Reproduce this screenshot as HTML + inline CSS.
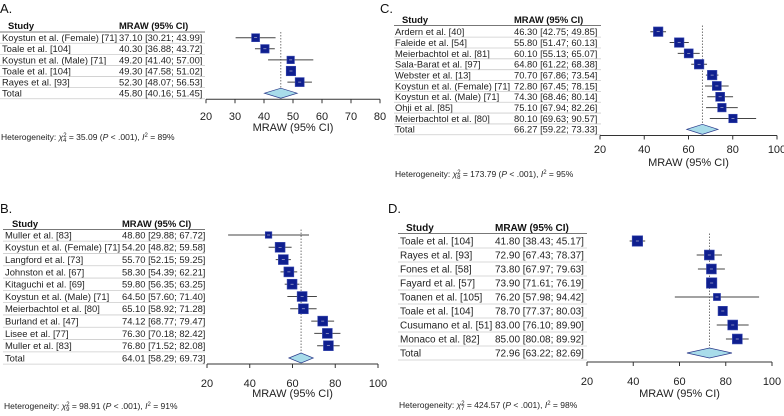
<!DOCTYPE html>
<html><head><meta charset="utf-8"><style>
body{margin:0;background:#fff;}
svg{display:block;font-family:"Liberation Sans",sans-serif;}
</style></head><body>
<svg id="fig" width="784" height="416" viewBox="0 0 784 416"></svg>
<script>
// Panel A data
const aStudies=["Koystun et al. (Female) [71]","Toale et al. [104]","Koystun et al. (Male) [71]","Toale et al. [104]","Rayes et al. [93]"];
const aMeans=[37.10,40.30,49.20,49.30,52.30];
const aLo=[30.21,36.88,41.40,47.58,48.07];
const aHi=[43.99,43.72,57.00,51.02,56.53];
const aWeights=[0.8,0.85,0.75,0.95,0.9];
const aTotal=[45.80,40.16,51.45];
const aTicks=[20,30,40,50,60,70,80];
// Panel B data
const bStudies=["Muller et al. [83]","Koystun et al. (Female) [71]","Langford et al. [73]","Johnston et al. [67]","Kitaguchi et al. [69]","Koystun et al. (Male) [71]","Meierbachtol et al. [80]","Burland et al. [47]","Lisee et al. [77]","Muller et al. [83]"];
const bMeans=[48.80,54.20,55.70,58.30,59.80,64.50,65.10,74.12,76.30,76.80];
const bLo=[29.88,48.82,52.15,54.39,56.35,57.60,58.92,68.77,70.18,71.52];
const bHi=[67.72,59.58,59.25,62.21,63.25,71.40,71.28,79.47,82.42,82.08];
const bWeights=[0.6,0.9,0.9,0.9,0.9,0.9,0.9,0.9,0.9,0.9];
const bTotal=[64.01,58.29,69.73];
const bTicks=[20,40,60,80,100];
// Panel C data
const cStudies=["Ardern et al. [40]","Faleide et al. [54]","Meierbachtol et al. [81]","Sala-Barat et al. [97]","Webster et al. [13]","Koystun et al. (Female) [71]","Koystun et al. (Male) [71]","Ohji et al. [85]","Meierbachtol et al. [80]"];
const cMeans=[46.30,55.80,60.10,64.80,70.70,72.80,74.30,75.10,80.10];
const cLo=[42.75,51.47,55.13,61.22,67.86,67.45,68.46,67.94,69.63];
const cHi=[49.85,60.13,65.07,68.38,73.54,78.15,80.14,82.26,90.57];
const cWeights=[0.95,0.95,0.9,0.95,0.95,0.9,0.9,0.85,0.85];
const cTotal=[66.27,59.22,73.33];
const cTicks=[20,40,60,80,100];
// Panel D data
const dStudies=["Toale et al. [104]","Rayes et al. [93]","Fones et al. [58]","Fayard et al. [57]","Toanen et al. [105]","Toale et al. [104]","Cusumano et al. [51]","Monaco et al. [82]"];
const dMeans=[41.80,72.90,73.80,73.90,76.20,78.70,83.00,85.00];
const dLo=[38.43,67.43,67.97,71.61,57.98,77.37,76.10,80.08];
const dHi=[45.17,78.37,79.63,76.19,94.42,80.03,89.90,89.92];
const dWeights=[0.95,0.9,0.9,0.95,0.65,0.85,0.9,0.9];
const dTotal=[72.96,63.22,82.69];
const dTicks=[20,40,60,80,100];

const NS="http://www.w3.org/2000/svg";
const svg=document.getElementById('fig');
function mk(tag,attrs,parent){const e=document.createElementNS(NS,tag);for(const k in attrs)e.setAttribute(k,attrs[k]);(parent||svg).appendChild(e);return e;}
function fmt(v){return v.toFixed(2);}

function drawPanel(id,letter,studies,means,lo,hi,weights,total,ticks,hetDf,hetChi,hetI2,g){
  const grp=mk('g',{});
  
  
  const vmin=ticks[0],vmax=ticks[ticks.length-1];
  const X=v=>g.x0+(v-vmin)/(vmax-vmin)*(g.x1-g.x0);
  const Y=i=>g.rowY0+i*g.step;
  const fs=g.fs;
  const lab=mk('text',{x:g.lx,y:g.ly,'font-size':13,fill:'#111'},grp);lab.textContent=letter;
  
  
  const h1=mk('text',{x:g.hs,y:g.hy,'font-size':fs,'font-weight':'bold',fill:'#111'},grp);h1.textContent='Study';
  
  
  const h2=mk('text',{x:g.ci,y:g.hy,'font-size':fs,'font-weight':'bold',fill:'#111'},grp);h2.textContent='MRAW (95% CI)';
  
  
  mk('line',{x1:g.tl,x2:g.tr,y1:g.uy,y2:g.uy,stroke:'#777','stroke-width':1},grp);
  const ref=mk('line',{x1:X(total[0]),x2:X(total[0]),y1:g.uy,y2:Y(studies.length),stroke:'#555','stroke-width':0.8,'stroke-dasharray':'1.5,1.5'},grp);
  
  
  const n=studies.length;
  for(let i=0;i<=n;i++){
    const y=Y(i);
    const name=i<n?studies[i]:'Total';
    const ci=i<n?`${fmt(means[i])} [${fmt(lo[i])}; ${fmt(hi[i])}]`:`${fmt(total[0])} [${fmt(total[1])}; ${fmt(total[2])}]`;
    const t1=mk('text',{x:g.sx,y:y+fs*0.36,'font-size':fs,fill:'#222'},grp);t1.textContent=name;
    
    
    const t2=mk('text',{x:g.ci,y:y+fs*0.36,'font-size':fs,fill:'#222'},grp);t2.textContent=ci;
    
    
    mk('line',{x1:g.tl,x2:g.tr,y1:y+g.step/2,y2:y+g.step/2,stroke:'#ccc','stroke-width':0.8},grp);
    if(i<n){
      const ln=mk('line',{x1:X(lo[i]),x2:X(hi[i]),y1:y,y2:y,stroke:'#444','stroke-width':1},grp);
      
      
      const s=weights[i]*g.box;
      const b=mk('rect',{x:X(means[i])-s/2,y:y-s/2,width:s,height:s,fill:'#0f1f8f',stroke:'#3a4ab0','stroke-width':0.6},grp);
      
      
      mk('line',{x1:X(means[i])-1.5,x2:X(means[i])+1.5,y1:y,y2:y,stroke:'#ccd','stroke-width':0.6},grp);
    } else {
      const d=mk('polygon',{points:`${X(total[1])},${y} ${X(total[0])},${y-5} ${X(total[2])},${y} ${X(total[0])},${y+5}`,fill:'#a8dcea',stroke:'#2a3a8a','stroke-width':0.7},grp);
      
      
    }
  }
  const ax=mk('line',{x1:X(vmin),x2:X(vmax),y1:g.ay,y2:g.ay,stroke:'#333','stroke-width':1},grp);
  
  
  ticks.forEach((t,k)=>{
    mk('line',{x1:X(t),x2:X(t),y1:g.ay,y2:g.ay+4,stroke:'#333','stroke-width':1},grp);
    const tl=mk('text',{x:X(t),y:g.ty,'font-size':11,'text-anchor':'middle',fill:'#222'},grp);tl.textContent=t;
    
    
  });
  const at=mk('text',{x:(X(vmin)+X(vmax))/2,y:g.aty,'font-size':11,'text-anchor':'middle',fill:'#222'},grp);at.textContent='MRAW (95% CI)';
  
  
  const ht=mk('text',{x:g.tl+1,y:g.hety,'font-size':8.5,fill:'#222'},grp);
  
  
  ht.innerHTML=`Heterogeneity: <tspan font-style="italic">χ</tspan><tspan font-size="6" dy="-3">2</tspan><tspan font-size="6" dx="-3.5" dy="5">${hetDf}</tspan><tspan dy="-2"> = ${hetChi} (</tspan><tspan font-style="italic">P</tspan> &lt; .001), <tspan font-style="italic">I</tspan><tspan font-size="6" dy="-3">2</tspan><tspan dy="3"> = ${hetI2}%</tspan>`;
}

drawPanel('a','A.',aStudies,aMeans,aLo,aHi,aWeights,aTotal,aTicks,4,'35.09',89,
 {x0:206,x1:380,rowY0:37.7,step:11.1,fs:9.4,lx:0,ly:13,hs:8,hy:29,ci:119,uy:32,tl:0,tr:205,sx:2,ay:99.3,ty:120,aty:131,hety:140,box:10});
drawPanel('b','B.',bStudies,bMeans,bLo,bHi,bWeights,bTotal,bTicks,9,'98.91',91,
 {x0:207,x1:378,rowY0:235,step:12.3,fs:9.4,lx:0,ly:213,hs:12,hy:227,ci:122,uy:229.5,tl:3,tr:205,sx:5,ay:364,ty:387,aty:397,hety:409,box:11});
drawPanel('c','C.',cStudies,cMeans,cLo,cHi,cWeights,cTotal,cTicks,8,'173.79',95,
 {x0:600,x1:777,rowY0:31.7,step:10.85,fs:9.4,lx:380,ly:13,hs:402,hy:23,ci:514,uy:25.5,tl:394,tr:601,sx:395,ay:135.5,ty:153,aty:166,hety:177,box:10});
drawPanel('d','D.',dStudies,dMeans,dLo,dHi,dWeights,dTotal,dTicks,7,'424.57',98,
 {x0:587,x1:772,rowY0:241,step:14,fs:10,lx:388,ly:213,hs:406,hy:231,ci:495,uy:233.5,tl:398,tr:587,sx:400,ay:362,ty:385,aty:397,hety:408,box:11});
</script>
</body></html>
